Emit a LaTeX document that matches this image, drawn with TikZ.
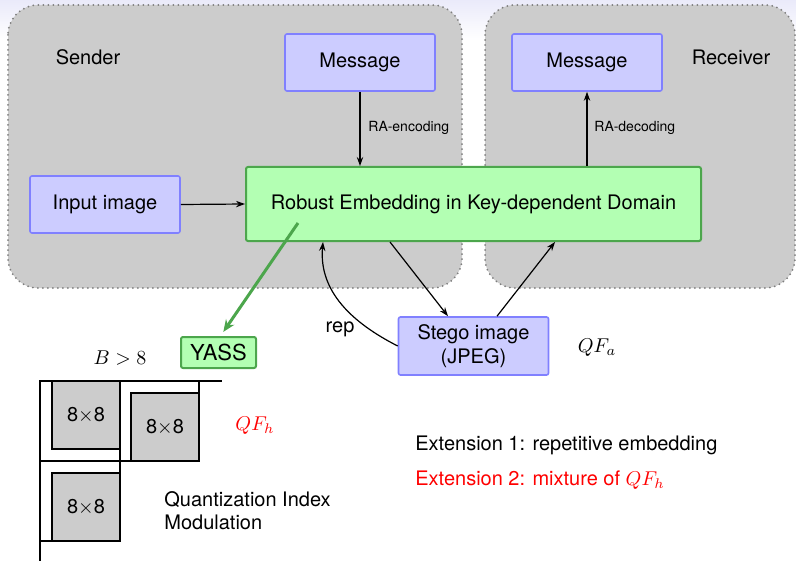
\documentclass[tikz,border=0pt]{standalone}
\usepackage[no-math]{fontspec}
\setmainfont{TeX Gyre Heros}
\usetikzlibrary{arrows.meta,calc}
\definecolor{bfill}{RGB}{204,204,255}
\definecolor{bdraw}{RGB}{128,128,255}
\definecolor{gfill}{RGB}{179,255,179}
\definecolor{gdraw}{RGB}{76,166,76}
\definecolor{areac}{RGB}{204,204,204}
\definecolor{dotc}{RGB}{125,125,125}
\definecolor{topc}{RGB}{234,234,250}
\begin{document}
\begin{tikzpicture}[x=0.5pt,y=-0.5pt, font=\fontsize{10}{12}\selectfont,
  areabox/.style={fill=areac, draw=dotc, line width=1pt, dash pattern=on 0pt off 2.5pt, line cap=round, rounded corners=15pt},
  bluebox/.style={fill=bfill, draw=bdraw, line width=0.8pt, rounded corners=1pt, minimum width=75pt, minimum height=28.5pt, inner sep=0pt, align=center},
  greenbox/.style={fill=gfill, draw=gdraw, line width=1pt, rounded corners=1pt, inner sep=0pt},
  arr/.style={-{Stealth[length=4.5pt,width=3.2pt]}, line width=0.6pt},
  garr/.style={-{Stealth[length=6pt,width=5pt]}, draw=gdraw, line width=1.5pt},
  smalltext/.style={font=\fontsize{7}{8}\selectfont, inner sep=0pt},
  plain/.style={inner sep=0pt},
  cell/.style={draw, line width=0.6pt},
  sq/.style={fill=areac, draw, line width=0.8pt, minimum size=34pt, inner sep=0pt}]
\useasboundingbox (0,0) rectangle (796,561);
\shade[top color=topc, bottom color=white] (0,0) rectangle (796,40);

% areas
\draw[areabox] (8,5) rectangle (462,288);
\draw[areabox] (485,5) rectangle (795,288);
\node[plain] (sender) at (88,57) {Sender};
\node[plain] (receiver) at (731,57) {Receiver};

% nodes
\node[bluebox] (msg) at (360,62.5) {Message};
\node[bluebox] (rmsg) at (587,62.5) {Message};
\node[bluebox] (input) at (105,204.5) {Input image};
\node[greenbox, minimum width=227.5pt, minimum height=37pt] (robust) at (473.5,204) {Robust Embedding in Key-dependent Domain};
\node[bluebox, minimum height=29pt] (stego) at (473.5,346) {Stego image\\(JPEG)};
\node[greenbox, minimum width=37.5pt, minimum height=15.5pt, font=\fontsize{11}{13}\selectfont] (yass) at (218.5,352.5) {YASS};

% connectors
\draw[arr] (msg.south) -- (msg.south |- robust.north);
\node[smalltext, anchor=west] (raenc) at (368,128) {RA-encoding};
\draw[arr] (robust.north -| rmsg.south) -- (rmsg.south);
\node[smalltext, anchor=west] (radec) at (594,128) {RA-decoding};
\draw[arr] (input.east) -- (robust.west);
\draw[arr] ([xshift=-41.75pt]robust.south) -- ([xshift=-12.75pt]stego.north);
\draw[arr] ([xshift=11.75pt]stego.north) -- ([xshift=40.75pt]robust.south);
\draw[arr] (stego.west) to[out=153, in=-95] ([xshift=-75.25pt]robust.south);
\node[plain] (rep) at (340,329) {rep};
\coordinate (gs) at (298,223);
\draw[garr, shorten >=2.5pt] (gs) -- ([xshift=1pt]yass.north);

\node[plain] (qfa) at (597,348) {$QF_a$};

% grid
\draw[cell] (40,381) rectangle (120,461);
\draw[cell] (120,381) rectangle (199,461);
\draw[cell] (40,461) rectangle (120,541);
\draw[cell] (40,381) -- (222,381);
\draw[cell] (40,381) -- (40,561);
\node[sq] (b1) at (86,415) {8$\times$8};
\node[sq] (b2) at (165,427) {8$\times$8};
\node[sq] (b3) at (86,507) {8$\times$8};
\node[plain] (bgt) at (120,358) {$B>8$};
\node[plain, red] (qfh) at (255,426) {$QF_h$};
\node[plain, anchor=west, align=left, font=\fontsize{10}{11.5}\selectfont] (qim) at (164,511) {Quantization Index\\Modulation};

\node[plain, anchor=west] (ext1) at (415,445) {Extension 1: repetitive embedding};
\node[plain, anchor=west, red] (ext2) at (415,480) {Extension 2: mixture of $QF_h$};
\end{tikzpicture}
\end{document}
